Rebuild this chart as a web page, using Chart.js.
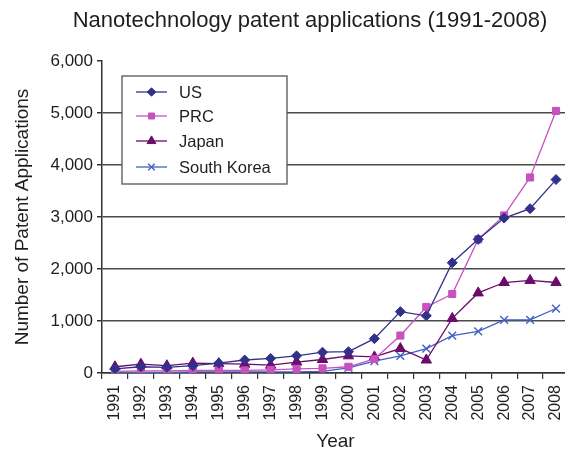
<!DOCTYPE html>
<html>
<head>
<meta charset="utf-8">
<script src="https://cdn.jsdelivr.net/npm/chart.js@4.4.1/dist/chart.umd.min.js"></script>
<style>
  html, body { margin: 0; padding: 0; background: #fff; overflow: hidden; }
  #wrap { width: 565px; height: 453px; overflow: hidden; }
</style>
</head>
<body>
<!-- the original is cropped at its right edge, so the canvas runs a little past the window -->
<div id="wrap"><canvas id="chart" width="576" height="453"></canvas></div>
<script>
const years = ['1991', '1992', '1993', '1994', '1995', '1996', '1997', '1998', '1999',
               '2000', '2001', '2002', '2003', '2004', '2005', '2006', '2007', '2008'];
const usApps    = [80, 120, 110, 140, 190, 250, 280, 330, 400, 410, 660, 1180, 1100, 2120, 2570, 2980, 3160, 3720];
const prcApps   = [30, 40, 40, 50, 50, 50, 60, 80, 90, 120, 270, 720, 1270, 1520, 2570, 3030, 3760, 5040];
const japanApps = [120, 170, 140, 190, 180, 170, 150, 210, 260, 330, 310, 470, 250, 1050, 1540, 1740, 1780, 1740];
const koreaApps = [10, 10, 10, 20, 20, 20, 20, 20, 30, 100, 230, 330, 470, 720, 800, 1020, 1020, 1240];
const yTicks = [0, 1000, 2000, 3000, 4000, 5000, 6000];

const FONT = "'Liberation Sans', Arial, sans-serif";
const TEXT = '#1e1e1e';

function series(label, data, color, style, radius, fill) {
    return {
        label: label,
        data: data,
        borderColor: color,
        backgroundColor: color,
        borderWidth: 1.3,
        pointStyle: style,
        pointRadius: radius,
        pointBorderWidth: style === 'crossRot' ? 1.4 : 1,
        pointBackgroundColor: fill ? color : 'transparent',
        pointBorderColor: color,
        tension: 0,
    };
}

// title + boxed legend drawn inside the plot, like the original
const decorations = {
    id: 'decorations',
    afterDraw(chart) {
        const ctx = chart.ctx;
        ctx.save();
        ctx.fillStyle = TEXT;
        ctx.font = '22px ' + FONT;
        ctx.textAlign = 'center';
        ctx.textBaseline = 'middle';
        ctx.fillText('Nanotechnology patent applications (1991-2008)', 310, 21);

        // legend box
        const bx = 122, by = 76, bw = 165, bh = 108;
        ctx.fillStyle = '#fff';
        ctx.fillRect(bx, by, bw, bh);
        ctx.strokeStyle = '#555';
        ctx.lineWidth = 1.3;
        ctx.strokeRect(bx, by, bw, bh);

        const rows = [92, 116, 141, 167];
        ctx.font = '16.5px ' + FONT;
        ctx.textAlign = 'left';
        chart.data.datasets.forEach((ds, i) => {
            const y = rows[i];
            ctx.strokeStyle = ds.borderColor;
            ctx.lineWidth = 1.3;
            ctx.beginPath();
            ctx.moveTo(136, y);
            ctx.lineTo(167, y);
            ctx.stroke();
            ctx.fillStyle = ds.pointBackgroundColor;
            ctx.strokeStyle = ds.borderColor;
            ctx.lineWidth = ds.pointBorderWidth;
            Chart.helpers.drawPoint(ctx, {
                pointStyle: ds.pointStyle,
                radius: ds.pointRadius * 0.85,
                rotation: 0,
                borderWidth: ds.pointBorderWidth,
            }, 151.5, y);
            ctx.fillStyle = TEXT;
            ctx.fillText(ds.label, 179, y + 1);
        });
        ctx.restore();
    }
};

new Chart(document.getElementById('chart'), {
    type: 'line',
    data: {
        labels: years,
        datasets: [
            series('US', usApps, '#33308C', 'rectRot', 5, true),
            series('PRC', prcApps, '#C850BF', 'rect', 5, true),
            series('Japan', japanApps, '#6A0C6A', 'triangle', 6, true),
            series('South Korea', koreaApps, '#4060C4', 'crossRot', 5.5, false),
        ]
    },
    options: {
        responsive: false,
        devicePixelRatio: 1,
        animation: false,
        layout: { padding: { top: 61, right: 0, bottom: 0, left: 0 } },
        plugins: {
            legend: { display: false },
            title: { display: false },
            tooltip: { enabled: false }
        },
        scales: {
            x: {
                offset: true,
                grid: {
                    offset: true,
                    drawOnChartArea: false,
                    drawTicks: true,
                    tickLength: 6,
                    color: '#333',
                    lineWidth: 1.2
                },
                border: { color: '#333', width: 1.5 },
                ticks: {
                    autoSkip: false,
                    minRotation: 90,
                    maxRotation: 90,
                    padding: 6,
                    color: TEXT,
                    font: { family: FONT, size: 16 }
                },
                title: {
                    display: true,
                    text: 'Year',
                    color: TEXT,
                    padding: 0,
                    font: { family: FONT, size: 19 }
                },
                afterFit: (scale) => {
                    scale.height = 80;
                    scale.paddingLeft = 0;
                    scale.paddingRight = 0;
                }
            },
            y: {
                min: 0,
                max: 6000,
                afterBuildTicks: (scale) => { scale.ticks = yTicks.map(v => ({ value: v })); },
                grid: {
                    color: (c) => c.tick && c.tick.value === 6000 ? 'rgba(0,0,0,0)' : '#4a4a4a',
                    tickColor: '#333',
                    lineWidth: 1.5,
                    tickLength: 5
                },
                border: { color: '#333', width: 1.5 },
                ticks: {
                    padding: 4,
                    color: TEXT,
                    font: { family: FONT, size: 17 },
                    callback: (v) => v.toLocaleString('en-US')
                },
                title: {
                    display: true,
                    text: 'Number of Patent Applications',
                    color: TEXT,
                    padding: { top: 11, bottom: 0 },
                    font: { family: FONT, size: 19 }
                },
                afterFit: (scale) => { scale.width = 102; }
            }
        }
    },
    plugins: [decorations]
});
</script>
</body>
</html>
